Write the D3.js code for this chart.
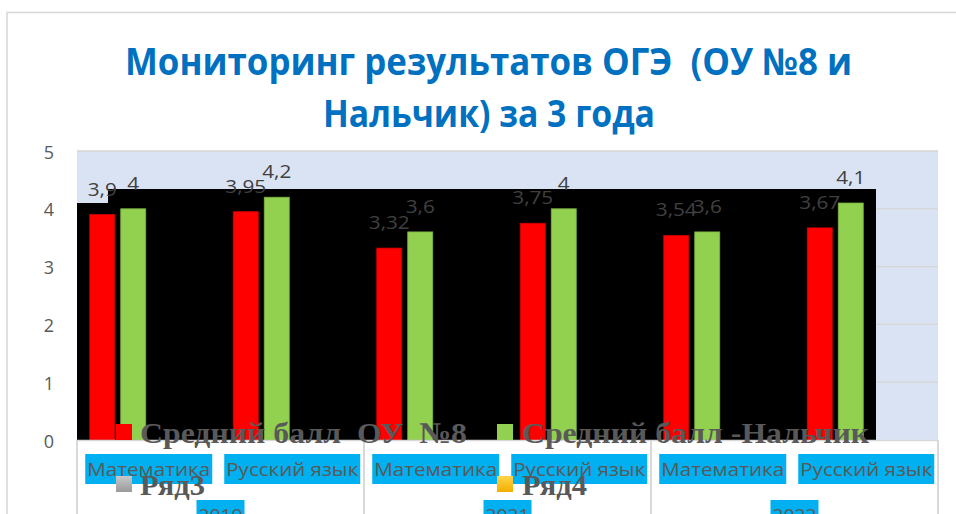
<!DOCTYPE html>
<html><head><meta charset="utf-8">
<script src="https://cdn.jsdelivr.net/npm/d3@7"></script>
<style>body{margin:0;background:#fff;overflow:hidden} svg{display:block}</style>
</head><body>
<svg id="c" width="956" height="514"></svg>
<script>
// ---- data ----
const years = ["2019", "2021", "2022"];
const subjects = ["Математика", "Русский язык"];
const categories = ["2019|Математика", "2019|Русский язык", "2021|Математика", "2021|Русский язык", "2022|Математика", "2022|Русский язык"];
const seriesNames = ["Средний балл  ОУ  №8", "Средний балл -Нальчик", "Ряд3", "Ряд4"];
const schoolScores = [3.9, 3.95, 3.32, 3.75, 3.54, 3.67];
const nalchikScores = [4, 4.2, 3.6, 4, 3.6, 4.1];
const row3 = [null, null, null, null, null, null];
const row4 = [null, null, null, null, null, null];
const yTicks = [0, 1, 2, 3, 4, 5];
const titleLines = ["Мониторинг результатов ОГЭ  (ОУ №8 и", "Нальчик) за 3 года"];

const seriesValues = [schoolScores, nalchikScores, row3, row4];
const seriesFill = ["#FF0000", "#92D050", "url(#gGray)", "url(#gGold)"];
const seriesStroke = ["#D00000", "#7CB342", "#999", "#D9A000"];

// ---- layout ----
const L = {left: 77, right: 938, top: 151, bottom: 440};
const svg = d3.select("#c");
const defs = svg.append("defs");
function grad(id, c1, c2) {
  const g = defs.append("linearGradient").attr("id", id).attr("x1", 0).attr("y1", 0).attr("x2", 0).attr("y2", 1);
  g.append("stop").attr("offset", "0%").attr("stop-color", c1);
  g.append("stop").attr("offset", "100%").attr("stop-color", c2);
}
grad("gGray", "#C8C8C8", "#9A9A9A");
grad("gGold", "#FFD54A", "#F2AE00");

function stretch(sel, k) {
  sel.each(function () {
    const w = this.getComputedTextLength();
    d3.select(this).attr("textLength", w * k).attr("lengthAdjust", "spacingAndGlyphs");
  });
}
function fit(sel, w) { sel.attr("textLength", w).attr("lengthAdjust", "spacingAndGlyphs"); }

const SANS = "'Open Sans', 'Noto Sans', sans-serif";
const SERIF = "'Liberation Serif', 'DejaVu Serif', serif";

// outer frame
svg.append("rect").attr("width", 956).attr("height", 514).attr("fill", "#fff");
svg.append("rect").attr("x", 7).attr("y", 12.5).attr("width", 1000).attr("height", 600)
  .attr("fill", "#fff").attr("stroke", "#D9D9D9").attr("stroke-width", 1.6);

// scales
const x0 = d3.scaleBand().domain(categories).range([L.left, L.right]);
const halfGroup = 59;
const x1 = d3.scaleBand().domain(seriesNames)
  .range([x0.bandwidth() / 2 - halfGroup, x0.bandwidth() / 2 + halfGroup]).paddingInner(6 / 31);
const y = d3.scaleLinear().domain([0, 5]).range([L.bottom, L.top]);

// plot background
svg.append("rect").attr("x", L.left).attr("y", L.top).attr("width", L.right - L.left).attr("height", L.bottom - L.top)
  .attr("fill", "#DAE3F3");

// gridlines
svg.append("g").selectAll("line").data(yTicks.filter(t => t > 0)).join("line")
  .attr("x1", L.left).attr("x2", L.right).attr("y1", d => y(d)).attr("y2", d => y(d))
  .attr("stroke", "#D5D5D5").attr("stroke-width", 1.3);

// black overlay shape (from the original picture)
svg.append("path")
  .attr("d", `M${L.left},203 H108 V189 H876 V${L.bottom} H${L.left} Z`)
  .attr("fill", "#000");

// bars
const gBars = svg.append("g");
seriesNames.forEach((s, si) => {
  const data = seriesValues[si].map((v, i) => ({c: categories[i], v}));
  gBars.selectAll(null).data(data.filter(d => d.v != null)).join("rect")
    .attr("x", d => x0(d.c) + x1(s)).attr("width", x1.bandwidth())
    .attr("y", d => y(d.v)).attr("height", d => y(0) - y(d.v))
    .attr("fill", seriesFill[si]).attr("stroke", seriesStroke[si]).attr("stroke-width", 0.8);
});

// data labels
const gLab = svg.append("g");
[0, 1].forEach(si => {
  const s = seriesNames[si];
  const data = seriesValues[si].map((v, i) => ({c: categories[i], v}));
  gLab.selectAll(null).data(data).join("text")
    .attr("x", d => x0(d.c) + x1(s) + x1.bandwidth() / 2)
    .attr("y", d => y(d.v) - 19)
    .attr("text-anchor", "middle")
    .attr("font-family", SANS).attr("font-size", 18).attr("fill", "#404040")
    .text(d => String(d.v).replace(".", ","))
    .call(stretch, 1.15);
});

// y axis labels
svg.append("g").selectAll("text").data(yTicks).join("text")
  .attr("x", 54).attr("y", d => y(d) + 7.5).attr("text-anchor", "end")
  .attr("font-family", SANS).attr("font-size", 18).attr("fill", "#595959")
  .text(d => d);

// axis line
svg.append("line").attr("x1", L.left).attr("x2", L.right).attr("y1", L.bottom + 0.5).attr("y2", L.bottom + 0.5)
  .attr("stroke", "#D9D9D9").attr("stroke-width", 1.5);

// group separators
const sepX = [x0(categories[0]), x0(categories[2]), x0(categories[4]), L.right];
svg.append("g").selectAll("line").data(sepX).join("line")
  .attr("x1", d => d).attr("x2", d => d).attr("y1", L.bottom).attr("y2", 514)
  .attr("stroke", "#D9D9D9").attr("stroke-width", 2);

// category labels (subjects)
const subjW = {"Математика": 123, "Русский язык": 132};
const gCat = svg.append("g");
categories.forEach(c => {
  const subj = c.split("|")[1];
  const cx = x0(c) + x0.bandwidth() / 2;
  const w = subjW[subj];
  gCat.append("rect").attr("x", cx - w / 2 - 2).attr("y", 454).attr("width", w + 4).attr("height", 30).attr("fill", "#00B0F0");
  gCat.append("text").attr("x", cx).attr("y", 476).attr("text-anchor", "middle")
    .attr("font-family", SANS).attr("font-size", 19).attr("fill", "#595959")
    .text(subj).call(fit, w);
});

// year labels
years.forEach((yr, gi) => {
  const cx = (sepX[gi] + sepX[gi + 1]) / 2;
  gCat.append("rect").attr("x", cx - 24).attr("y", 500).attr("width", 48).attr("height", 30).attr("fill", "#00B0F0");
  gCat.append("text").attr("x", cx).attr("y", 522).attr("text-anchor", "middle")
    .attr("font-family", SANS).attr("font-size", 19).attr("fill", "#595959")
    .text(yr).call(fit, 44);
});

// legend
const legendPos = [
  {mx: 116, my: 424, tx: 140, ty: 443, w: 327},
  {mx: 497, my: 424, tx: 522, ty: 443, w: 347},
  {mx: 116, my: 476, tx: 140, ty: 495, w: 65},
  {mx: 497, my: 476, tx: 522, ty: 495, w: 65}
];
const gLeg = svg.append("g");
seriesNames.forEach((s, i) => {
  const p = legendPos[i];
  gLeg.append("rect").attr("x", p.mx).attr("y", p.my).attr("width", 16).attr("height", 16).attr("fill", seriesFill[i]);
  gLeg.append("text").attr("x", p.tx).attr("y", p.ty)
    .attr("font-family", SERIF).attr("font-weight", 700).attr("font-size", 30).attr("fill", "#595959")
    .style("white-space", "pre")
    .text(s).call(fit, p.w);
});

// title
const titleGeom = [{cx: 488.5, y: 75, w: 727}, {cx: 489, y: 127, w: 332}];
svg.append("g").selectAll("text").data(titleLines).join("text")
  .attr("x", (d, i) => titleGeom[i].cx).attr("y", (d, i) => titleGeom[i].y)
  .attr("text-anchor", "middle")
  .attr("font-family", SANS).attr("font-weight", 700).attr("font-size", 37).attr("fill", "#0070C0")
  .style("white-space", "pre")
  .text(d => d)
  .each(function (d, i) { d3.select(this).call(fit, titleGeom[i].w); });
</script>
</body></html>
